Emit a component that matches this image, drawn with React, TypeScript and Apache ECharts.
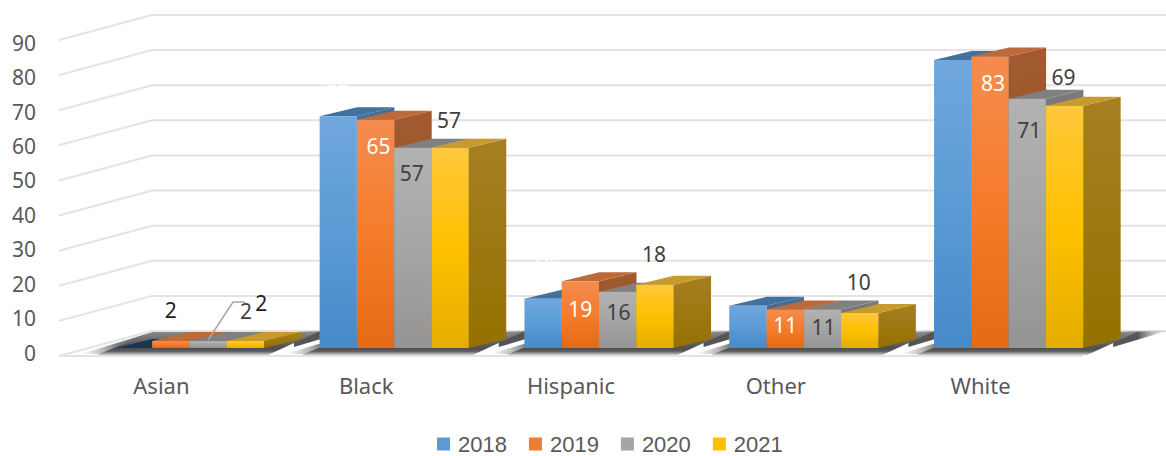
import React, { useEffect, useRef } from "react";
import * as echarts from "echarts";

const categories = ["Asian", "Black", "Hispanic", "Other", "White"];
const years = ["2018", "2019", "2020", "2021"];
const values2018 = [0, 66, 14, 12, 82];
const values2019 = [2, 65, 19, 11, 83];
const values2020 = [2, 57, 16, 11, 71];
const values2021 = [2, 57, 18, 10, 69];
const yTicks = [0, 10, 20, 30, 40, 50, 60, 70, 80, 90];

const seriesValues = [values2018, values2019, values2020, values2021];

// Face colours per year: front gradient stops, legend swatch, top and side faces.
const faces = [
  { front: ["#70a7de", "#5b9bd5", "#468ac9"], swatch: "#5b9bd5", top: "#41719c", side: ["#41719c", "#33608a"] },
  { front: ["#f48c50", "#f57c2a", "#e56a15"], swatch: "#ed7d31", top: "#bd6a3a", side: ["#a35a30", "#8f4c22"] },
  { front: ["#b2b2b2", "#a5a5a5", "#949494"], swatch: "#a5a5a5", top: "#808080", side: ["#7a7a7a", "#6a6a6a"] },
  { front: ["#ffc83c", "#ffc000", "#e4ad00"], swatch: "#ffc000", top: "#c69a2c", side: ["#a67f22", "#957100"] },
];
const zeroBarTop = "#1c3550";

const TEXT_FONT = "Noto Sans";
const LEGEND_FONT = "Liberation Sans";
const TEXT_SIZE = 21;
const AXIS_TEXT = "#595959";
const GRID_COLOR = "#e3e3e3";

// Projection of the chart box: how far the back wall sits from the front plane.
const WALL_DX = 93;
const WALL_DY = -25;
// Bars stand inside the floor, so they are shifted from the front axis line.
const BAR_FLOOR_DX = 28;
const BAR_FLOOR_DY = -8;
const BAR_DEPTH_DX = 37.5;
const BAR_DEPTH_DY = -9;
const BAR_BAND_SHARE = 0.182;

// Label nudges from a bar's front-top centre, by [year][category]; null means no label.
const labelOffsets: ([number, number] | null)[][] = [
  [null, [0, -29], [0, -37], null, null],
  [[0, -31], [3, 26], [0, 28], [0, 16], [3, 26]],
  [[38, -30], [-1, 25], [1, 20], [1, 18], [2, 31]],
  [[16, -38], [-1, -28], [-1, -31], [-1, -31], [-1, -29]],
];
const labelColors = [
  ["#ffffff", "#ffffff", "#ffffff", "#ffffff", "#ffffff"],
  ["#1e1e1e", "#ffffff", "#ffffff", "#ffffff", "#ffffff"],
  ["#404040", "#404040", "#404040", "#404040", "#404040"],
  ["#1e1e1e", "#404040", "#404040", "#404040", "#404040"],
];
// Elbow connector that ties the Asian 2020 label to its bar.
const leaderPoints = [[0, -1], [25, -39], [37, -39]];

function barBox(api: any, cat: number, yearIdx: number, value: number) {
  const base = api.coord([cat, 0]);
  const top = api.coord([cat, value]);
  const band = api.size([1, 0])[0];
  const w = band * BAR_BAND_SHARE;
  const x0 = base[0] + BAR_FLOOR_DX - 2 * w + yearIdx * w;
  return { x0, x1: x0 + w, w, yBase: base[1] + BAR_FLOOR_DY, yTop: top[1] + BAR_FLOOR_DY };
}

function vGradient(stops: string[]) {
  return new echarts.graphic.LinearGradient(
    0, 0, 0, 1,
    stops.map((color, i) => ({ offset: i / (stops.length - 1), color }))
  );
}

const renderWall = (params: any, api: any) => {
  const y = api.coord([0, api.value(1)])[1];
  const cs = params.coordSys;
  return {
    type: "polyline",
    silent: true,
    shape: { points: [[cs.x, y], [cs.x + WALL_DX, y + WALL_DY], [cs.x + cs.width + WALL_DX, y + WALL_DY]] },
    style: { stroke: GRID_COLOR, lineWidth: 2, fill: "none" },
  };
};

const renderFloorLine = (params: any, api: any) => {
  const y = api.coord([0, 0])[1];
  const cs = params.coordSys;
  return {
    type: "line",
    silent: true,
    shape: { x1: cs.x, y1: y, x2: cs.x + cs.width, y2: y },
    style: { stroke: GRID_COLOR, lineWidth: 2 },
  };
};

const renderFloorShadow = (_params: any, api: any) => {
  const cat = api.value(0);
  const first = barBox(api, cat, 0, 0);
  const last = barBox(api, cat, 3, 0);
  const y = first.yBase;
  return {
    type: "group",
    silent: true,
    children: [
      // Soft wedges trailing off at the left and right ends of the cast shadow.
      {
        type: "polygon",
        shape: { points: [[last.x1 + 30, y - 16], [last.x1 + 84, y - 17], [last.x1 + 30, y - 1]] },
        style: {
          fill: new echarts.graphic.LinearGradient(0, 0, 1, 0, [
            { offset: 0, color: "rgba(85,85,85,1)" },
            { offset: 0.45, color: "rgba(85,85,85,1)" },
            { offset: 1, color: "rgba(170,170,170,0.1)" },
          ]),
        },
      },
      {
        type: "polygon",
        shape: { points: [[first.x0 - 34, y + 6], [first.x0 - 10, y + 6], [first.x0 + 38, y - 16]] },
        style: {
          fill: new echarts.graphic.LinearGradient(0, 0, 1, 0, [
            { offset: 0, color: "rgba(150,150,150,0)" },
            { offset: 0.5, color: "rgba(90,90,90,0.8)" },
            { offset: 1, color: "rgba(90,90,90,0.9)" },
          ]),
        },
      },
      {
        type: "polygon",
        shape: {
          points: [
            [first.x0 - 18, y + 7],
            [first.x0 + 38, y - 16],
            [last.x1 + 54, y - 16],
            [last.x1 + 4, y + 7],
          ],
        },
        style: {
          fill: new echarts.graphic.LinearGradient(0, 0, 0, 1, [
            { offset: 0, color: "#8a8a8a" },
            { offset: 0.35, color: "#6a6a6a" },
            { offset: 0.72, color: "#4e4e4e" },
            { offset: 0.84, color: "#5e5e5e" },
            { offset: 1, color: "#d0d0d0" },
          ]),
        },
      },
    ],
  };
};

const makeBarRenderer = (yearIdx: number) => (_params: any, api: any) => {
  const cat = api.value(0);
  const value = api.value(1);
  const { x0, x1, yBase, yTop } = barBox(api, cat, yearIdx, value);
  const f = faces[yearIdx];
  const dx = BAR_DEPTH_DX;
  const dy = BAR_DEPTH_DY;
  const children: any[] = [
    {
      type: "polygon",
      shape: { points: [[x1, yTop], [x1 + dx, yTop + dy], [x1 + dx, yBase + dy], [x1, yBase]] },
      style: { fill: vGradient(f.side) },
    },
    {
      type: "polygon",
      shape: { points: [[x0, yTop], [x0 + dx, yTop + dy], [x1 + dx, yTop + dy], [x1, yTop]] },
      style: { fill: value === 0 ? zeroBarTop : f.top },
    },
  ];
  if (value > 0) {
    children.push({
      type: "rect",
      shape: { x: x0, y: yTop, width: x1 - x0, height: yBase - yTop },
      style: { fill: vGradient(f.front) },
    });
  }
  return { type: "group", silent: true, children };
};

const labelRows = years.flatMap((_, yearIdx) =>
  categories.map((_c, cat) => [cat, seriesValues[yearIdx][cat], yearIdx])
);

const renderLabel = (_params: any, api: any) => {
  const cat = api.value(0);
  const value = api.value(1);
  const yearIdx = api.value(2);
  const offset = labelOffsets[yearIdx][cat];
  if (!offset) return null;
  const { x0, w, yTop } = barBox(api, cat, yearIdx, value);
  const cx = x0 + w / 2;
  const children: any[] = [];
  if (yearIdx === 2 && cat === 0) {
    children.push({
      type: "polyline",
      shape: { points: leaderPoints.map(([a, b]) => [cx + a, yTop + b]) },
      style: { stroke: "#a6a6a6", lineWidth: 1.5, fill: "none" },
    });
  }
  children.push({
    type: "text",
    style: {
      x: cx + offset[0],
      y: yTop + offset[1],
      text: String(value),
      fill: labelColors[yearIdx][cat],
      font: `${TEXT_SIZE}px "${TEXT_FONT}"`,
      align: "center",
      verticalAlign: "middle",
    },
  });
  return { type: "group", silent: true, children };
};

export default function App() {
  const ref = useRef<HTMLDivElement>(null);

  useEffect(() => {
    const chart = echarts.init(ref.current!, undefined, { renderer: "svg" });
    chart.setOption({
      animation: false,
      backgroundColor: "#ffffff",
      grid: [
        { left: 59, right: 83, top: 40, bottom: 100 },
        // Tick labels run on a slightly tighter scale than the gridlines.
        { left: 59, right: 83, top: 42.6, bottom: 103.3 },
      ],
      xAxis: [
        {
          type: "category",
          gridIndex: 0,
          data: categories,
          axisLine: { show: false },
          axisTick: { show: false },
          axisLabel: { color: AXIS_TEXT, fontFamily: TEXT_FONT, fontSize: 22, margin: 18 },
        },
        { type: "category", gridIndex: 1, data: categories, show: false },
      ],
      yAxis: [
        {
          type: "value",
          gridIndex: 0,
          min: 0,
          max: 90,
          interval: 10,
          axisLine: { show: false },
          axisTick: { show: false },
          axisLabel: { show: false },
          splitLine: { show: false },
        },
        {
          type: "value",
          gridIndex: 1,
          min: 0,
          max: 90,
          interval: 10,
          axisLine: { show: false },
          axisTick: { show: false },
          splitLine: { show: false },
          axisLabel: { color: AXIS_TEXT, fontFamily: TEXT_FONT, fontSize: TEXT_SIZE, margin: 23 },
        },
      ],
      legend: {
        data: years.map((name, i) => ({ name, itemStyle: { color: faces[i].swatch } })),
        left: 432,
        top: 428,
        icon: "rect",
        itemWidth: 13,
        itemHeight: 13,
        itemGap: 22,
        textStyle: { color: AXIS_TEXT, fontFamily: LEGEND_FONT, fontSize: 22, padding: [0, 0, 0, 3] },
      },
      series: [
        {
          type: "custom",
          name: "walls",
          renderItem: renderWall,
          clip: false,
          silent: true,
          data: yTicks.map((t) => [0, t]),
          encode: { x: 0, y: 1 },
        },
        {
          type: "custom",
          name: "floor",
          renderItem: renderFloorShadow,
          clip: false,
          silent: true,
          data: categories.map((_, i) => [i, 0]),
          encode: { x: 0, y: 1 },
        },
        {
          type: "custom",
          name: "floorEdge",
          renderItem: renderFloorLine,
          clip: false,
          silent: true,
          data: [[0, 0]],
          encode: { x: 0, y: 1 },
        },
        ...years.map((name, yearIdx) => ({
          type: "custom",
          name,
          renderItem: makeBarRenderer(yearIdx),
          clip: false,
          silent: true,
          itemStyle: { color: faces[yearIdx].swatch },
          data: seriesValues[yearIdx].map((v, i) => [i, v]),
          encode: { x: 0, y: 1 },
        })),
        {
          type: "custom",
          name: "labels",
          renderItem: renderLabel,
          clip: false,
          silent: true,
          data: labelRows,
          encode: { x: 0, y: 1 },
        },
      ],
    });
    return () => chart.dispose();
  }, []);

  return <div ref={ref} style={{ position: "fixed", left: 0, top: 0, width: 1166, height: 456 }} />;
}
